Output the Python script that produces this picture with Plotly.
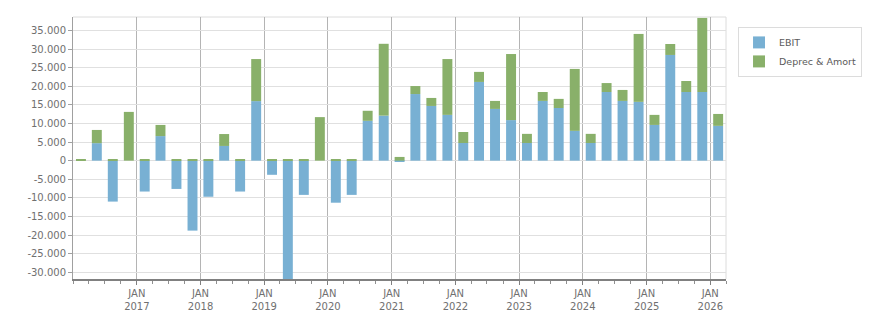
import plotly.graph_objects as go

# Quarter start dates (bars centred in each quarter)
quarters = [
    "2016-01-01", "2016-04-01", "2016-07-01", "2016-10-01",
    "2017-01-01", "2017-04-01", "2017-07-01", "2017-10-01",
    "2018-01-01", "2018-04-01", "2018-07-01", "2018-10-01",
    "2019-01-01", "2019-04-01", "2019-07-01", "2019-10-01",
    "2020-01-01", "2020-04-01", "2020-07-01", "2020-10-01",
    "2021-01-01", "2021-04-01", "2021-07-01", "2021-10-01",
    "2022-01-01", "2022-04-01", "2022-07-01", "2022-10-01",
    "2023-01-01", "2023-04-01", "2023-07-01", "2023-10-01",
    "2024-01-01", "2024-04-01", "2024-07-01", "2024-10-01",
    "2025-01-01", "2025-04-01", "2025-07-01", "2025-10-01",
    "2026-01-01",
]

ebit = [
    0, 4700, -11000, 0,
    -8300, 6600, -7600, -18800,
    -9700, 3950, -8300, 16000,
    -3800, -31800, -9200, 0,
    -11300, -9200, 10700, 12100,
    -200, 17900, 14700, 12300,
    4750, 21150, 13900, 10900,
    4750, 16050, 14150, 8000,
    4750, 18450, 16050, 15800,
    9600, 28400, 18450, 18450,
    9350,
]

deprec_amort = [
    300, 3550, 300, 13100,
    300, 3000, 300, 300,
    300, 3200, 300, 11300,
    300, 300, 300, 11700,
    300, 300, 2700, 19300,
    1000, 2150, 2150, 15000,
    2950, 2700, 2150, 17750,
    2450, 2400, 2450, 16650,
    2450, 2400, 2950, 18250,
    2700, 2950, 2950, 19900,
    3200,
]

x_tick_vals = ["2017-01-01", "2018-01-01", "2019-01-01", "2020-01-01", "2021-01-01",
               "2022-01-01", "2023-01-01", "2024-01-01", "2025-01-01", "2026-01-01"]
x_tick_text = ["JAN<br>2017", "JAN<br>2018", "JAN<br>2019", "JAN<br>2020", "JAN<br>2021",
               "JAN<br>2022", "JAN<br>2023", "JAN<br>2024", "JAN<br>2025", "JAN<br>2026"]

y_tick_vals = [-30000, -25000, -20000, -15000, -10000, -5000, 0,
               5000, 10000, 15000, 20000, 25000, 30000, 35000]
y_tick_text = ["-30.000", "-25.000", "-20.000", "-15.000", "-10.000", "-5.000", "0",
               "5.000", "10.000", "15.000", "20.000", "25.000", "30.000", "35.000"]

FONT = "DejaVu Sans"
BAR_W = 57 * 24 * 3600 * 1000  # ms

fig = go.Figure()
fig.add_trace(go.Bar(
    x=quarters, y=ebit, name="EBIT",
    marker=dict(color="#78B0D3", line=dict(width=0)),
    xperiod="M3", xperiodalignment="middle", width=BAR_W,
))
fig.add_trace(go.Bar(
    x=quarters, y=deprec_amort, name="Deprec & Amort",
    marker=dict(color="#89B06A", line=dict(width=0)),
    xperiod="M3", xperiodalignment="middle", width=BAR_W,
))

fig.update_layout(
    width=876, height=313,
    margin=dict(l=73, r=150, t=17, b=34, pad=0, autoexpand=False),
    barmode="relative",
    plot_bgcolor="white", paper_bgcolor="white",
    font=dict(family=FONT, size=10, color="#707070"),
    showlegend=True,
    legend=dict(
        xref="container", yref="container",
        x=0.8425, y=0.914, xanchor="left", yanchor="top",
        bordercolor="#dcdcdc", borderwidth=1, bgcolor="white",
        font=dict(family=FONT, size=9.5, color="#5a5a5a"),
        itemwidth=30, tracegroupgap=0,
    ),
    xaxis=dict(
        type="date",
        range=["2016-01-01", "2026-04-01"],
        automargin=False,
        tickmode="array", tickvals=x_tick_vals, ticktext=x_tick_text,
        showgrid=True, gridcolor="#b4b4b4", gridwidth=1,
        showline=True, linecolor="#808080", linewidth=2,
        ticks="outside", ticklen=4, tickcolor="#808080", tickwidth=1,
        minor=dict(ticks="outside", ticklen=3, tickcolor="#909090",
                   tick0="2016-01-01", dtick="M3", showgrid=False),
        tickfont=dict(family=FONT, size=10, color="#707070"),
        zeroline=False,
        fixedrange=True,
    ),
    yaxis=dict(
        range=[-31800, 38600],
        automargin=False,
        tickmode="array", tickvals=y_tick_vals, ticktext=y_tick_text,
        showgrid=True, gridcolor="#e0e0e0", gridwidth=1,
        zeroline=False,
        showline=True, linecolor="#a0a0a0", linewidth=1,
        ticks="outside", ticklen=4, tickcolor="#a0a0a0",
        tickfont=dict(family=FONT, size=10, color="#707070"),
        fixedrange=True,
    ),
    shapes=[
        dict(type="line", xref="paper", yref="paper", x0=0, x1=1, y0=1, y1=1,
             line=dict(color="#dcdcdc", width=1), layer="below"),
        dict(type="line", xref="paper", yref="paper", x0=1, x1=1, y0=0, y1=1,
             line=dict(color="#dcdcdc", width=1), layer="below"),
    ],
)

fig.write_html("out.html")
